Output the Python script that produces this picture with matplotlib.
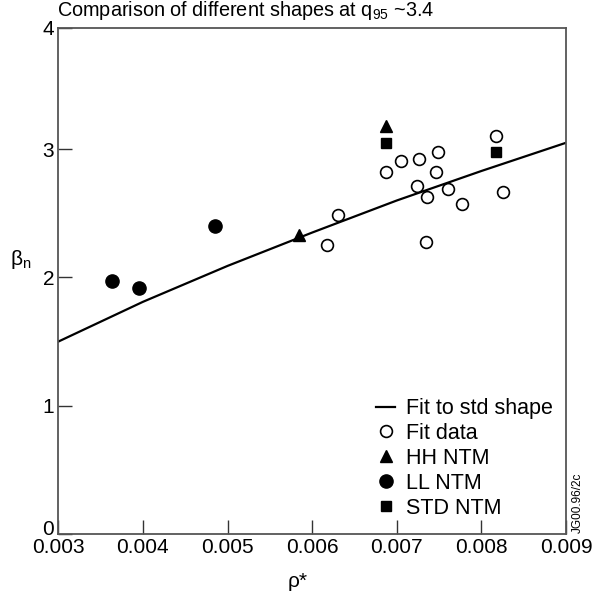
import matplotlib
matplotlib.use("Agg")
import matplotlib.pyplot as plt
import matplotlib.transforms as mtransforms

plt.rcParams['font.family'] = ['Liberation Sans', 'DejaVu Sans']
plt.rcParams['mathtext.fontset'] = 'custom'
plt.rcParams['mathtext.rm'] = 'Liberation Sans'
plt.rcParams['mathtext.it'] = 'Liberation Sans:italic'
plt.rcParams['mathtext.default'] = 'regular'

# fit to std shape
fit_x = [0.003, 0.004, 0.005, 0.006, 0.007, 0.008, 0.009]
fit_y = [1.50, 1.81, 2.09, 2.35, 2.60, 2.83, 3.05]

# fit data (open circles)
data_x = [0.00631, 0.00618, 0.00687, 0.00705, 0.00726, 0.00749, 0.00746,
          0.00724, 0.00736, 0.00760, 0.00777, 0.00734, 0.00817, 0.00825]
data_y = [2.49, 2.25, 2.82, 2.91, 2.92, 2.98, 2.82,
          2.71, 2.63, 2.69, 2.57, 2.28, 3.10, 2.67]

# NTM points
hh_x = [0.00585, 0.00687]
hh_y = [2.33, 3.18]
ll_x = [0.00363, 0.00395, 0.00485]
ll_y = [1.97, 1.92, 2.40]
std_x = [0.00687, 0.00817]
std_y = [3.05, 2.98]

fig = plt.figure(figsize=(6.06, 5.95), dpi=100)
ax = fig.add_axes([0.0962, 0.1025, 0.8378, 0.8505])

ax.plot(fit_x, fit_y, color='black', lw=1.6, label='Fit to std shape', zorder=2)
ax.plot(data_x, data_y, 'o', mfc='white', mec='black', mew=1.2, ms=8.5,
        label='Fit data', zorder=3)
ax.plot(hh_x, hh_y, '^', color='black', ms=9, label='HH NTM', zorder=4)
ax.plot(ll_x, ll_y, 'o', color='black', ms=9.5, label='LL NTM', zorder=4)
ax.plot(std_x, std_y, 's', color='black', ms=7, label='STD NTM', zorder=4)

ax.set_xlim(0.003, 0.009)
ax.set_ylim(0, 3.945)
ax.set_xticks([0.003, 0.004, 0.005, 0.006, 0.007, 0.008, 0.009])
ax.set_xticklabels(['0.003', '0.004', '0.005', '0.006', '0.007', '0.008', '0.009'])
ax.set_yticks([0, 1, 2, 3, 3.945])
ax.set_yticklabels(['0', '1', '2', '3', '4'])
ax.tick_params(direction='in', length=10, width=1, labelsize=15, color='#333333')
ax.tick_params(axis='x', pad=3)
ax.tick_params(axis='y', pad=3)
ax.tick_params(top=False, right=False)
for s in ax.spines.values():
    s.set_color('#555555')
    s.set_linewidth(1.3)

# lift the "0" label a little so it sits above 0.003 like the original
zero_lbl = ax.get_yticklabels()[0]
zero_lbl.set_transform(zero_lbl.get_transform() +
                       mtransforms.ScaledTranslation(0, 5 / 72, fig.dpi_scale_trans))

ax.set_xlabel('ρ*', fontsize=15)
ax.xaxis.set_label_coords(0.472, -0.075)
ax.set_ylabel(r'β$_n$', fontsize=15, rotation=0)
ax.yaxis.set_label_coords(-0.075, 0.52)

fig.text(0.094, 0.963, r'Comparison of different shapes at q$_{95}$ ~3.4',
         fontsize=14.3, ha='left', va='bottom')

leg = ax.legend(loc='lower right', bbox_to_anchor=(1.0, 0.005), frameon=False,
                fontsize=15.5, handlelength=0.9, handletextpad=0.5,
                labelspacing=0.18, borderaxespad=0.2)

fig.text(0.953, 0.105, 'JG00.96/2c', rotation=90, fontsize=8.5,
         ha='center', va='bottom')

fig.savefig('out.png', dpi=100)
